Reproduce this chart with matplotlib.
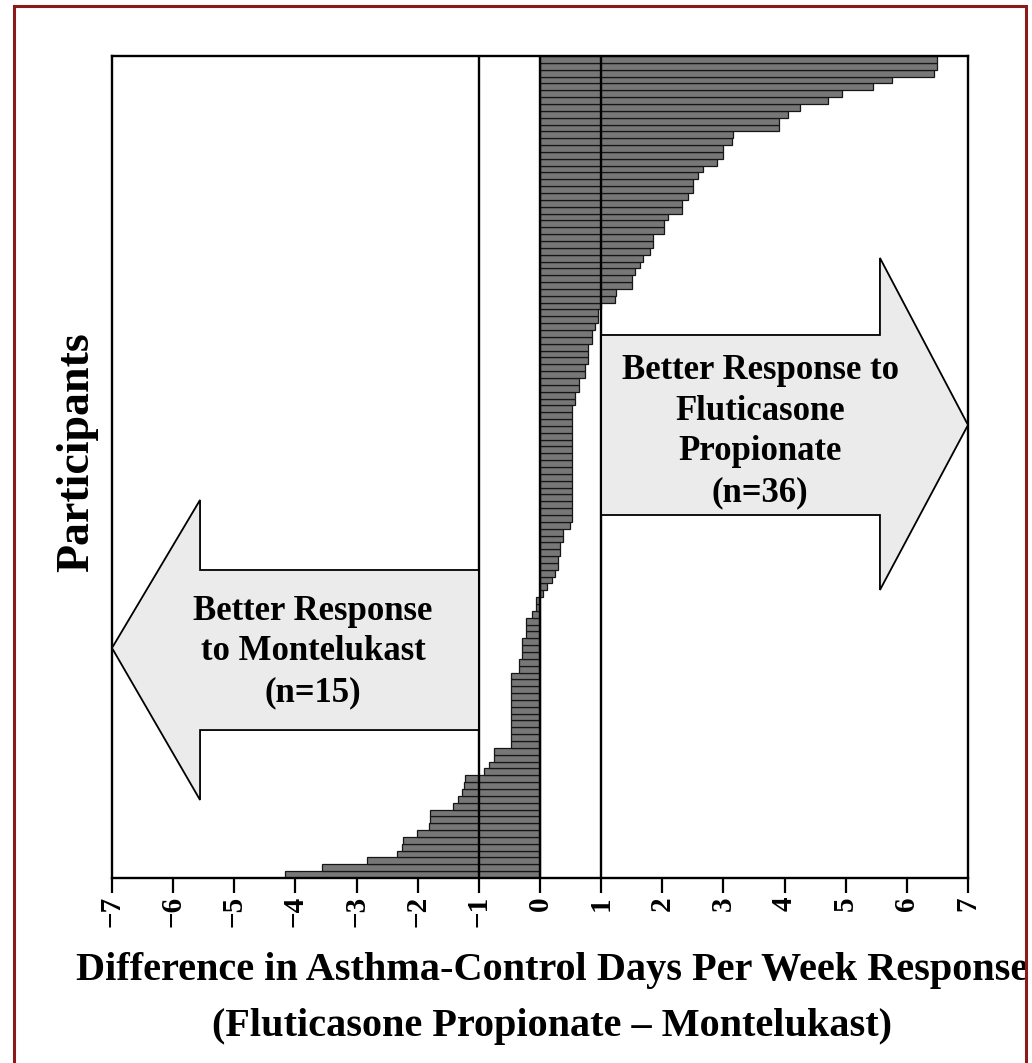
import matplotlib
matplotlib.use("Agg")
import matplotlib.pyplot as plt
from matplotlib.patches import Polygon, Rectangle

# Differences (Fluticasone - Montelukast), listed from top participant to bottom
difference = [
    6.5, 6.5, 6.45, 5.76, 5.45, 4.94, 4.71, 4.25, 4.06, 3.91, 3.91,
    3.16, 3.14, 3.0, 2.99, 2.89, 2.67, 2.59, 2.5, 2.5, 2.42, 2.32, 2.32,
    2.10, 2.02, 2.02, 1.85, 1.85, 1.80, 1.69, 1.64, 1.56, 1.50, 1.50,
    1.25, 1.23,
    1.0, 0.95, 0.95, 0.90, 0.85, 0.85, 0.79, 0.79, 0.79, 0.74, 0.74,
    0.63, 0.63, 0.58, 0.58,
    0.53, 0.53, 0.53, 0.53, 0.53, 0.53, 0.53, 0.53, 0.53, 0.53, 0.53,
    0.53, 0.53, 0.53, 0.53, 0.53, 0.53,
    0.49, 0.38, 0.38, 0.33, 0.33, 0.30, 0.30, 0.25, 0.20, 0.11, 0.05,
    -0.07, -0.07, -0.13, -0.23, -0.23, -0.23, -0.30, -0.30, -0.30,
    -0.35, -0.35,
    -0.48, -0.48, -0.48, -0.48, -0.48, -0.48, -0.48, -0.48, -0.48,
    -0.48, -0.48,
    -0.76, -0.76, -0.84, -0.92,
    -1.23, -1.25, -1.28, -1.34, -1.43, -1.80, -1.80, -1.81, -2.01,
    -2.24, -2.26, -2.34, -2.83, -3.57, -4.17,
]
x_ticks = [-7, -6, -5, -4, -3, -2, -1, 0, 1, 2, 3, 4, 5, 6, 7]
x_tick_labels = ["\u22127", "\u22126", "\u22125", "\u22124", "\u22123", "\u22122", "\u22121",
                 "0", "1", "2", "3", "4", "5", "6", "7"]
x_label = "Difference in Asthma-Control Days Per Week Response\n(Fluticasone Propionate \u2013 Montelukast)"
y_label = "Participants"
right_text = "Better Response to\nFluticasone\nPropionate\n(n=36)"
left_text = "Better Response\nto Montelukast\n(n=15)"

SERIF = ["Liberation Serif", "DejaVu Serif"]

fig = plt.figure(figsize=(10.32, 10.63), dpi=100)
W, H = 1032, 1063
ax = fig.add_axes([112 / W, 1 - 878 / H, (968 - 112) / W, (878 - 56) / H])

vals = difference[::-1]  # bottom to top
ypos = list(range(len(vals)))
ax.barh(ypos, vals, height=1.0, color="#777777", edgecolor="#161616", linewidth=0.9, zorder=2)

ax.set_xlim(-7, 7)
ax.set_ylim(-0.5, len(vals) - 0.5)
for xv in (-1, 0, 1):
    ax.axvline(xv, color="black", linewidth=1.7, zorder=3)

trans = ax.get_xaxis_transform()
right_arrow = [(1, 0.6606), (5.56, 0.6606), (5.56, 0.7543), (7, 0.5511),
               (5.56, 0.3504), (5.56, 0.4416), (1, 0.4416)]
left_arrow = [(-1, 0.3747), (-5.56, 0.3747), (-5.56, 0.4599), (-7, 0.2798),
              (-5.56, 0.0949), (-5.56, 0.1800), (-1, 0.1800)]
for pts in (right_arrow, left_arrow):
    ax.add_patch(Polygon(pts, closed=True, transform=trans, facecolor="#ebebeb",
                         edgecolor="black", linewidth=1.3, zorder=4, clip_on=False))

ax.text(3.6, 0.543, right_text, transform=trans, ha="center", va="center",
        fontsize=25, fontweight="bold", family=SERIF, linespacing=1.3, zorder=5)
ax.text(-3.71, 0.275, left_text, transform=trans, ha="center", va="center",
        fontsize=25, fontweight="bold", family=SERIF, linespacing=1.3, zorder=5)

ax.set_xticks(x_ticks)
ax.set_xticklabels(x_tick_labels, rotation=90, fontsize=21,
                   fontweight="bold", family=SERIF)
ax.tick_params(axis="x", direction="out", length=11, width=1.6, pad=2)
ax.set_yticks([])
for s in ax.spines.values():
    s.set_linewidth(1.7)
    s.set_color("black")

ax.set_xlabel(x_label, fontsize=29, fontweight="bold", family=SERIF, labelpad=18,
              linespacing=1.65)
ax.xaxis.label.set_x(0.5 + 12 / 856)
ax.set_ylabel(y_label, fontsize=33, fontweight="bold", family=SERIF, labelpad=10)
ax.yaxis.label.set_y(0.5 + 15 / 822)

# dark red frame around the figure
fig.patches.append(Rectangle((14 / W, -0.05), (1026 - 14) / W, 1 - 6 / H + 0.05,
                             transform=fig.transFigure, fill=False,
                             edgecolor="#8b1a1a", linewidth=2.2))

fig.savefig("out.png", dpi=100, facecolor="white")
